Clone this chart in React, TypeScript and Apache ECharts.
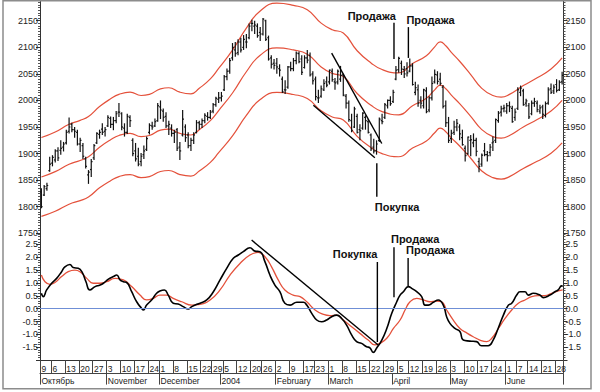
import React, { useEffect, useRef } from "react";
import * as echarts from "echarts";

// ---------- OHLC bars: [open, high, low, close] ----------
const barsOct = [
  [1828,1835,1797,1800],[1822,1841,1820,1838],[1834,1845,1830,1840],[1868,1894,1866,1880],
  [1882,1897,1876,1893],[1888,1908,1883,1905],[1905,1912,1886,1892],[1906,1925,1898,1910],[1912,1922,1904,1918],
  [1920,1945,1917,1940],[1942,1968,1938,1950],[1955,1958,1940,1945],[1945,1950,1930,1942],[1940,1945,1915,1918],
  [1918,1930,1903,1925],[1915,1920,1890,1895],[1890,1894,1872,1876],[1860,1869,1843,1865],[1870,1890,1856,1885],
  [1892,1918,1888,1915],[1920,1940,1918,1938],[1936,1945,1928,1940],[1946,1957,1935,1940],[1942,1950,1932,1945],
];
const barsNov = [
  [1952,1972,1950,1968],[1966,1970,1948,1955],[1955,1969,1944,1962],[1962,1980,1957,1975],[1978,1995,1969,1978],
  [1975,1978,1944,1950],[1948,1957,1932,1940],[1940,1975,1937,1970],[1968,1972,1950,1962],[1925,1929,1895,1900],
  [1905,1920,1885,1890],[1895,1911,1876,1880],[1885,1901,1876,1895],[1898,1915,1890,1905],[1908,1932,1905,1928],
  [1940,1957,1936,1953],[1952,1960,1945,1950],[1952,1966,1950,1960],[1962,1995,1960,1990],
];
const barsDec = [
  [1988,2000,1965,1982],[1980,1985,1960,1968],[1970,1978,1948,1952],[1952,1962,1935,1955],[1948,1955,1932,1938],
  [1938,1945,1920,1940],[1945,1948,1905,1910],[1912,1922,1888,1905],[1935,1982,1932,1965],[1950,1955,1922,1930],
  [1935,1940,1910,1915],[1915,1930,1905,1925],[1925,1940,1918,1935],[1940,1963,1938,1958],[1958,1962,1945,1955],
  [1955,1966,1948,1962],[1962,1976,1957,1972],[1970,1978,1962,1968],[1968,1982,1965,1978],
  [1980,1995,1976,1992],[1992,2007,1988,2004],[2002,2016,1995,2005],
];
const barsJan = [
  [2005,2016,1998,2008],
  [2020,2048,2018,2045],[2045,2060,2038,2055],[2055,2080,2050,2075],[2080,2108,2075,2100],[2095,2110,2082,2088],
  [2090,2115,2085,2110],[2110,2118,2090,2095],[2100,2123,2095,2115],[2110,2125,2098,2110],[2118,2145,2115,2140],
  [2145,2152,2130,2145],[2140,2150,2125,2142],[2140,2145,2118,2122],[2128,2138,2112,2125],
  [2125,2155,2122,2153],[2150,2152,2112,2115],[2118,2122,2075,2078],[2080,2085,2060,2068],[2070,2078,2058,2066],
];
const barsFeb = [
  [2070,2080,2050,2063],[2060,2068,2045,2057],[2040,2045,2014,2016],[2020,2038,2012,2020],[2025,2065,2022,2063],
  [2063,2073,2055,2060],[2060,2080,2055,2075],[2075,2092,2068,2089],[2088,2092,2070,2073],[2078,2085,2048,2053],
  [2062,2085,2060,2080],[2080,2095,2070,2076],[2085,2090,2045,2048],[2050,2055,2030,2037],
  [2040,2045,2000,2007],[2005,2020,1995,2005],[2008,2028,2005,2022],[2020,2040,2018,2032],[2035,2045,2025,2029],
];
const barsMar = [
  [2035,2058,2030,2057],[2055,2060,2035,2039],[2035,2042,2020,2033],[2035,2058,2030,2055],[2040,2065,2035,2047],
  [2048,2050,2008,2010],[2008,2012,1985,1995],[1995,2000,1960,1964],[1962,1975,1940,1943],[1950,1988,1948,1984],
  [1970,1975,1938,1940],[1945,1955,1925,1943],[1948,1978,1945,1976],[1968,1972,1945,1962],[1960,1965,1938,1940],
  [1935,1938,1905,1909],[1912,1928,1900,1905],[1905,1925,1898,1918],[1925,1968,1922,1965],[1962,1975,1955,1960],
  [1968,1995,1965,1992],[1990,2002,1985,2000],[2000,2008,1990,1994],
];
const barsApr = [
  [1998,2020,1995,2015],[2040,2065,2038,2057],
  [2058,2082,2052,2079],[2070,2075,2048,2059],[2058,2065,2042,2050],[2060,2072,2045,2052],
  [2055,2079,2053,2065],[2065,2070,2028,2030],[2015,2035,2010,2024],[2020,2030,1988,1995],[2000,2008,1985,1995],
  [1990,2022,1985,2020],[2018,2025,1976,1979],[1982,2008,1978,2005],[2005,2045,2000,2032],[2035,2058,2032,2049],
  [2048,2055,2030,2036],[2040,2052,2028,2032],[2025,2029,1985,1989],[1990,2000,1950,1958],[1958,1969,1920,1925],
];
const barsMay = [
  [1928,1945,1920,1938],[1940,1962,1935,1950],[1950,1965,1942,1957],[1950,1955,1925,1937],[1930,1945,1915,1917],
  [1910,1915,1885,1896],[1900,1932,1898,1931],[1925,1935,1895,1926],[1920,1938,1912,1925],[1925,1930,1895,1904],
  [1885,1892,1865,1876],[1880,1900,1875,1897],[1905,1920,1895,1898],[1898,1905,1885,1896],[1902,1918,1895,1912],
  [1920,1932,1905,1922],[1925,1966,1920,1964],[1962,1980,1958,1976],[1978,1990,1970,1984],[1985,1992,1978,1986],
];
const barsJun = [
  [1980,1995,1975,1990],[1990,1998,1978,1988],[1985,1990,1958,1960],[1968,1985,1962,1978],
  [1985,2025,1982,2020],[2015,2028,2008,2023],[2018,2022,1990,1992],[1995,2003,1988,1999],
  [1990,1995,1965,1969],[1975,2000,1972,1995],[1995,2005,1988,1998],[1995,2000,1978,1983],[1980,1992,1975,1986],
  [1988,1992,1965,1974],[1972,1998,1968,1994],[1995,2025,1992,2020],[2022,2032,2012,2015],[2018,2030,2012,2025],
  [2030,2040,2015,2019],[2020,2038,2018,2034],[2035,2054,2030,2047],
];

// ---------- envelope middle line [barIndex, value] and width ----------
const envelopeMid = [
  [0,1856],[5,1866],[10,1880],[14,1887],[17,1894],[21,1912],[25,1926],[28,1934],[32,1938],[36,1932],
  [39,1934],[43,1944],[46,1946],[50,1938],[54,1935],[57,1945],[61,1962],[64,1981],[69,2014],[74,2054],
  [79,2085],[85,2099],[91,2095],[96,2087],[101,2063],[105,2051],[109,2045],[114,2013],[119,1991],[123,1979],
  [129,1973],[134,1990],[139,2004],[142,2020],[144,2029],[146,2022],[148,2010],[151,1994],[155,1970],[159,1945],
  [163,1932],[166,1929],[169,1934],[174,1950],[179,1964],[184,1980],[188,2000],
];
const ENVELOPE_PCT = 0.04;

// ---------- oscillator (black) and signal (red) [barIndex, value] ----------
const oscillator = [
  [0,0.6],[0.7,0.47],[1.9,0.73],[3.7,0.99],[5.5,1.18],[7.3,1.44],[8.5,1.63],[10.3,1.72],[11.5,1.6],[13.3,1.57],
  [14.6,1.44],[16.1,1.05],[17.5,0.73],[19.4,0.86],[21.2,0.92],[22.4,0.99],[24.2,1.15],[26,1.25],[27.2,1.31],[28.4,1.12],
  [29.6,1.05],[30.8,1.02],[32.6,0.66],[34.4,0.27],[36.2,0.01],[36.8,-0.05],[38,0.14],[39.8,0.34],[41.6,0.6],[42.8,0.69],
  [44.4,0.73],[45.8,0.53],[47.6,0.21],[49.4,0.18],[51.2,0.08],[53,-0.01],[54.3,0.08],[56.1,0.17],[57.3,0.21],[59.7,0.34],
  [62.1,0.66],[64.5,1.12],[66.9,1.57],[69.3,1.96],[71.1,2.09],[72.9,2.22],[75.3,2.37],[77.1,2.24],[78.9,2.22],[80.7,1.83],
  [82.5,1.31],[84.3,0.92],[86.1,0.66],[87.9,0.21],[89.8,0.14],[92.2,0.25],[94.6,0.25],[95.8,0.14],[97.6,-0.18],[99.4,-0.44],
  [101.2,-0.51],[103,-0.44],[104.8,-0.31],[106.6,-0.25],[108.4,-0.38],[110.2,-0.64],[112,-1.02],[113.8,-1.28],[115.6,-1.35],[117.4,-1.48],
  [118.6,-1.52],[119.8,-1.7],[121,-1.54],[122.9,-1.22],[124.7,-0.77],[126.5,-0.18],[128.3,0.27],[129.5,0.53],[130.7,0.66],[132.5,0.86],
  [133.7,0.79],[135.5,0.66],[137.3,0.47],[138.5,0.14],[139.7,0.14],[141.5,0.25],[143.3,0.34],[145.1,0.14],[146.3,-0.31],[147.5,-0.57],
  [149.3,-0.77],[151.1,-0.89],[152.3,-1.22],[154.7,-1.26],[157.1,-1.28],[158.9,-1.44],[161.3,-1.44],[163.1,-1.22],[164.9,-0.77],[166.8,-0.25],
  [168.6,0.14],[169.8,0.21],[171.6,0.53],[172.8,0.66],[174.6,0.66],[175.8,0.53],[177.6,0.6],[180,0.53],[181.2,0.43],[183.6,0.53],
  [185.4,0.66],[186.6,0.73],[187.8,0.89],[188.2,0.86],
];
const signal = [
  [0,1.31],[1.3,1.05],[3.1,0.95],[4.9,1.02],[7.3,1.25],[9.7,1.44],[12.1,1.5],[13.9,1.44],[16.4,1.18],[18.7,0.99],
  [21.2,0.99],[23.6,1.05],[26.6,1.18],[29.6,1.12],[32.6,0.86],[35.6,0.53],[38,0.34],[40.4,0.4],[42.8,0.53],[45.2,0.53],
  [47.6,0.4],[50.7,0.27],[54.3,0.14],[57.3,0.17],[60.9,0.34],[64.5,0.73],[68.1,1.31],[71.7,1.76],[75.3,2.09],[78.3,2.19],
  [80.7,2.02],[83.1,1.63],[85.5,1.12],[87.9,0.73],[90.9,0.53],[93.4,0.47],[95.8,0.27],[98.8,-0.05],[101.8,-0.22],[104.2,-0.27],
  [106.6,-0.25],[109,-0.44],[112,-0.7],[115,-0.96],[118,-1.22],[120.4,-1.41],[122.2,-1.35],[124.7,-1.15],[127.1,-0.77],[129.5,-0.44],
  [131.3,-0.05],[133.1,0.27],[135.5,0.4],[137.9,0.34],[140.3,0.27],[142.7,0.3],[144.5,0.27],[146.3,-0.05],[148.7,-0.44],[151.1,-0.77],
  [153.8,-0.96],[155.9,-1.09],[158.3,-1.22],[160.8,-1.28],[162.6,-1.15],[165,-0.77],[167.4,-0.38],[169.8,-0.05],[172.2,0.21],[174.6,0.34],
  [177,0.47],[179.4,0.51],[181.8,0.51],[184.2,0.6],[186.6,0.69],[188.2,0.73],
];

// ---------- axis tick labels [barIndex, text] ----------
const weekLabels: [number, string][] = [
  [0,"9"],[4,"6"],[9,"13"],[14,"20"],[19,"27"],[24,"3"],[29,"10"],[34,"17"],[39,"24"],[43,"1"],
  [48,"8"],[53,"15"],[58,"22"],[62,"29"],[66,"5"],[71,"12"],[76,"20"],[80,"26"],[85,"2"],[90,"9"],
  [95,"17"],[99,"23"],[104,"1"],[109,"8"],[114,"15"],[119,"22"],[124,"29"],[129,"5"],[133,"12"],[138,"19"],
  [143,"26"],[148,"3"],[153,"10"],[158,"17"],[163,"24"],[168,"1"],[172,"7"],[176,"14"],[181,"21"],[186,"28"],
];
const monthLabels: [number, string][] = [
  [0,"Октябрь"],[24,"November"],[43,"December"],[65,"2004"],[85,"February"],
  [104,"March"],[127,"April"],[148,"May"],[168,"June"],
];

// ---------- annotations [barIndex, value] ----------
const priceChannelUpper = [[104.8,2089],[122.9,1919]];
const priceChannelLower = [[98.2,1991],[120.4,1892]];
const priceBuy = [[121.1,1882],[121.1,1819]];
const priceSell1 = [[127.3,2146],[127.3,2078]];
const priceSell2 = [[132.5,2138],[132.5,2080]];
const oscTrend = [[75.9,2.67],[121.6,-1.41]];
const oscBuy = [[121.3,1.82],[121.3,-1.3]];
const oscSell1 = [[127.3,2.39],[127.3,0.45]];
const oscSell2 = [[132.4,1.97],[132.4,0.88]];

const FONT = "Liberation Sans, Arial, sans-serif";
const RED = "#e4513b";

export default function App() {
  const ref = useRef<HTMLDivElement>(null);
  useEffect(() => {
    const chart = echarts.init(ref.current!, null, { renderer: "svg" });
    const bars = [...barsOct, ...barsNov, ...barsDec, ...barsJan, ...barsFeb, ...barsMar, ...barsApr, ...barsMay, ...barsJun];
    const n = bars.length;
    const cats = bars.map((_, i) => String(i));
    const weekMap = new Map(weekLabels);
    const monthMap = new Map(monthLabels);

    const yAxisBase = (grid: number, pos: "left" | "right", lower: boolean) => ({
      type: "value",
      gridIndex: grid,
      position: pos,
      min: lower ? -2 : 1750,
      max: lower ? 2.934 : 2189,
      interval: lower ? 0.5 : 50,
      axisLine: { show: true, onZero: false, lineStyle: { color: "#333", width: 1 } },
      axisTick: { show: true, length: 4, lineStyle: { color: "#333" } },
      minorTick: { show: true, splitNumber: lower ? 5 : 10, length: 2, lineStyle: { color: "#555" } },
      splitLine: { show: false },
      axisLabel: {
        fontSize: 9, color: "#222", fontFamily: FONT, margin: 2,
        showMaxLabel: false, showMinLabel: !lower,
        formatter: (v: number) => (lower ? v.toFixed(1) : String(v)),
      },
    });

    const lbl = (text: string, position: string, align: string, distance: number, offset: number[] = [0, 0]) => ({
      show: true, formatter: text, position, align, distance, offset,
      fontSize: 11, fontWeight: "bold", color: "#111", fontFamily: FONT,
    });
    const annot = (xi: number, yi: number, pts: number[][], labelAt?: number, label?: any) => ({
      type: "line",
      xAxisIndex: xi,
      yAxisIndex: yi,
      data: pts.map((p, i) => (label && i === labelAt ? { value: p, label } : { value: p })),
      symbol: "circle",
      symbolSize: 1,
      showSymbol: true,
      itemStyle: { color: "rgba(0,0,0,0)", borderWidth: 0 },
      lineStyle: { color: "#000", width: 1.4 },
      label: { show: false },
      silent: true,
      z: 5,
    });

    const option: any = {
      animation: false,
      backgroundColor: "#fff",
      grid: [
        { left: 40, right: 36.5, top: 0, height: 233.3 },
        { left: 40, right: 36.5, top: 233.3, height: 126.8 },
      ],
      xAxis: [
        { type: "value", gridIndex: 0, min: -0.5, max: n - 0.5, show: false },
        { type: "value", gridIndex: 1, min: -0.5, max: n - 0.5, show: false },
        {
          type: "category", gridIndex: 1, data: cats, position: "bottom", boundaryGap: true,
          axisLine: { show: true, onZero: false, lineStyle: { color: "#333", width: 1 } },
          axisTick: { show: true, length: 13, interval: (i: number) => weekMap.has(i), lineStyle: { color: "#444" } },
          axisLabel: {
            interval: (i: number) => weekMap.has(i),
            formatter: (_: string, i: number) => weekMap.get(i) ?? "",
            align: "left", margin: 4, fontSize: 8.5, color: "#222", fontFamily: FONT,
          },
        },
        {
          type: "category", gridIndex: 1, data: cats, position: "bottom", offset: 13.5, boundaryGap: true,
          axisLine: { show: true, onZero: false, lineStyle: { color: "#444", width: 1 } },
          axisTick: { show: true, length: 11, interval: (i: number) => monthMap.has(i), lineStyle: { color: "#444" } },
          axisLabel: {
            interval: (i: number) => monthMap.has(i),
            formatter: (_: string, i: number) => monthMap.get(i) ?? "",
            align: "left", margin: 3, fontSize: 8.5, color: "#222", fontFamily: FONT,
          },
        },
      ],
      yAxis: [
        yAxisBase(0, "left", false),
        yAxisBase(0, "right", false),
        yAxisBase(1, "left", true),
        yAxisBase(1, "right", true),
      ],
      graphic: [
        {
          type: "rect", silent: true, z: 100,
          shape: { x: 3, y: 0.75, width: 588, height: 388 },
          style: { fill: "none", stroke: "#8c8c8c", lineWidth: 1.5 },
        },
      ],
      series: [
        {
          type: "line", xAxisIndex: 0, yAxisIndex: 0, smooth: true, symbol: "none",
          data: envelopeMid.map(([i, v]) => [i, v * (1 + ENVELOPE_PCT)]),
          lineStyle: { color: RED, width: 1.2 }, silent: true, z: 2,
        },
        {
          type: "line", xAxisIndex: 0, yAxisIndex: 0, smooth: true, symbol: "none",
          data: envelopeMid,
          lineStyle: { color: RED, width: 1.2 }, silent: true, z: 2,
        },
        {
          type: "line", xAxisIndex: 0, yAxisIndex: 0, smooth: true, symbol: "none",
          data: envelopeMid.map(([i, v]) => [i, v * (1 - ENVELOPE_PCT)]),
          lineStyle: { color: RED, width: 1.2 }, silent: true, z: 2,
        },
        {
          type: "custom", xAxisIndex: 0, yAxisIndex: 0, silent: true, z: 3,
          data: bars.map((b, i) => [i, b[0], b[1], b[2], b[3]]),
          encode: { x: 0, y: [1, 2, 3, 4] },
          renderItem: (_p: any, api: any) => {
            const x = api.value(0);
            const pO = api.coord([x, api.value(1)]);
            const pH = api.coord([x, api.value(2)]);
            const pL = api.coord([x, api.value(3)]);
            const pC = api.coord([x, api.value(4)]);
            const st = { stroke: "#111", lineWidth: 1.2 };
            return {
              type: "group",
              children: [
                { type: "line", shape: { x1: pH[0], y1: pH[1], x2: pL[0], y2: pL[1] }, style: st },
                { type: "line", shape: { x1: pO[0] - 1.3, y1: pO[1], x2: pO[0], y2: pO[1] }, style: st },
                { type: "line", shape: { x1: pC[0], y1: pC[1], x2: pC[0] + 1.3, y2: pC[1] }, style: st },
              ],
            };
          },
        },
        annot(0, 0, priceChannelUpper),
        annot(0, 0, priceChannelLower),
        annot(0, 0, priceBuy, 1, lbl("Покупка", "bottom", "left", 4, [-2, 0])),
        annot(0, 0, priceSell1, 0, lbl("Продажа", "top", "right", 1, [2, 0])),
        annot(0, 0, priceSell2, 0, lbl("Продажа", "top", "left", 1, [-2, 0])),
        {
          type: "line", xAxisIndex: 1, yAxisIndex: 2, smooth: true, symbol: "none",
          data: signal, lineStyle: { color: RED, width: 1.3 }, silent: true, z: 3,
          markLine: {
            silent: true, symbol: ["none", "none"], label: { show: false },
            lineStyle: { color: "#6f8fd6", width: 1, type: "solid" },
            data: [{ yAxis: 0 }],
          },
        },
        {
          type: "line", xAxisIndex: 1, yAxisIndex: 2, smooth: true, symbol: "none",
          data: oscillator, lineStyle: { color: "#000", width: 1.6 }, silent: true, z: 4,
        },
        annot(1, 2, oscTrend),
        annot(1, 2, oscBuy, 0, lbl("Покупка", "top", "right", 2, [0, 0])),
        annot(1, 2, oscSell1, 0, lbl("Продажа", "top", "left", 2, [-3, 0])),
        annot(1, 2, oscSell2, 0, lbl("Продажа", "top", "left", 2, [-2, 0])),
      ],
    };
    chart.setOption(option);
    return () => chart.dispose();
  }, []);
  return (
    <div
      ref={ref}
      style={{ position: "absolute", left: 0, top: 0, width: 600, height: 392, background: "#fff" }}
    />
  );
}
